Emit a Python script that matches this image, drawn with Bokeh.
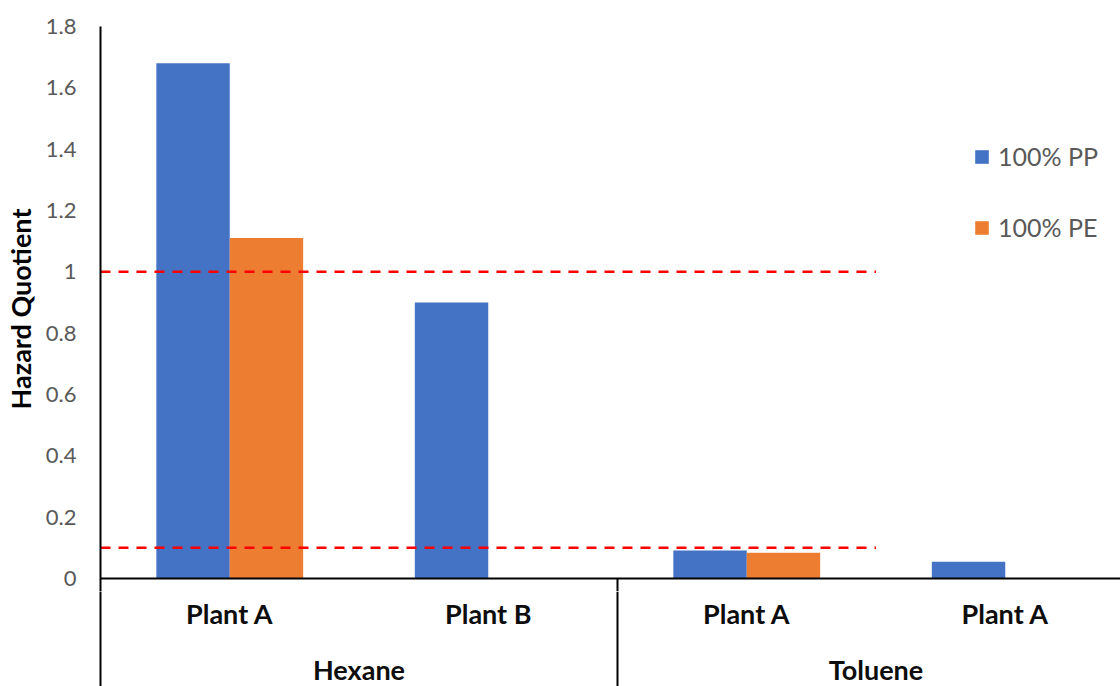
from bokeh.plotting import figure
from bokeh.layouts import column
from bokeh.models import ColumnDataSource, Range1d, FixedTicker, Legend, LegendItem, Span
from bokeh.transform import dodge
from bokeh.core.properties import value
from bokeh.embed import file_html
from bokeh.resources import INLINE

# ---- data ----
plants = ["Plant A", "Plant B", "Plant A", "Plant A"]
chemicals = ["Hexane", "Toluene"]
plants_per_chemical = [2, 2]
pp_values = [1.68, 0.90, 0.091, 0.055]
pe_values = [1.11, float("nan"), 0.084, float("nan")]
series_names = ["100% PP", "100% PE"]
series_colors = ["#4472C4", "#ED7D31"]
threshold_values = [1.0, 0.1]
threshold_span_categories = 3
y_ticks = [0, 0.2, 0.4, 0.6, 0.8, 1.0, 1.2, 1.4, 1.6, 1.8]
y_tick_labels = ["0", "0.2", "0.4", "0.6", "0.8", "1", "1.2", "1.4", "1.6", "1.8"]
y_title = "Hazard Quotient"

FONT = "Lato"
W, H = 1120, 686
left, top = 100, 26
y_max = 1.8
value_axis_px = 552
px_per_unit = value_axis_px / y_max
pad_px = 13                                  # room under zero so the "0" label is not cut
H1 = top + value_axis_px + pad_px            # main chart height
H2 = H - H1                                  # category-label strip height
zero_page_px = top + value_axis_px
cat_px = 258.5

x_pos = [i + 0.5 for i in range(len(plants))]
source = ColumnDataSource(dict(x=x_pos, pp=pp_values, pe=pe_values))
x_range = Range1d(0, (W - left) / cat_px)

bounds = []
acc = 0
for n in plants_per_chemical[:-1]:
    acc += n
    bounds.append(acc)

p = figure(width=W, height=H1, output_backend="svg", toolbar_location=None,
           x_range=x_range, y_range=Range1d(-pad_px / px_per_unit, y_max),
           min_border_left=left, min_border_right=0, min_border_top=top,
           min_border_bottom=0, x_axis_location=None)
p.outline_line_color = None
p.xgrid.grid_line_color = None
p.ygrid.grid_line_color = None
p.background_fill_color = "white"
p.border_fill_color = "white"

bw = 0.284
r_pp = p.vbar(x=dodge("x", -bw / 2, range=x_range), top="pp", width=bw, source=source,
              fill_color=series_colors[0], line_color=None)
r_pe = p.vbar(x=dodge("x", bw / 2, range=x_range), top="pe", width=bw, source=source,
              fill_color=series_colors[1], line_color=None)

for t in threshold_values:
    p.line(x=[0, threshold_span_categories], y=[t, t], line_color="#FF0000",
           line_width=2.5, line_dash="10 8")

p.add_layout(Span(location=0, dimension="width", line_color="black", line_width=2))
p.segment(x0=bounds, y0=[0] * len(bounds), x1=bounds,
          y1=[-pad_px / px_per_unit] * len(bounds), line_color="black", line_width=2)

# y axis
ya = p.yaxis[0]
ya.ticker = FixedTicker(ticks=y_ticks)
ya.major_label_overrides = dict(zip(y_ticks, y_tick_labels))
ya.major_tick_line_color = None
ya.minor_tick_line_color = None
ya.axis_line_color = "black"
ya.axis_line_width = 2
ya.major_label_text_font = FONT
ya.major_label_text_font_size = "22px"
ya.major_label_text_color = "#595959"
ya.major_label_standoff = 18
ya.axis_label = y_title
ya.axis_label_text_font = FONT
ya.axis_label_text_font_style = "bold"
ya.axis_label_text_font_size = "27px"
ya.axis_label_text_color = "black"
ya.axis_label_standoff = 6

legend_bottom_page_px = 242
legend = Legend(items=[LegendItem(label=series_names[0], renderers=[r_pp]),
                       LegendItem(label=series_names[1], renderers=[r_pe])],
                location=(873, H1 - legend_bottom_page_px), orientation="vertical")
legend.background_fill_alpha = 0
legend.border_line_color = None
legend.padding = 0
legend.margin = 0
legend.spacing = 41
legend.glyph_width = 17
legend.glyph_height = 17
legend.label_height = 30
legend.label_standoff = 8
legend.label_text_font = FONT
legend.label_text_font_size = "25px"
legend.label_text_color = "#595959"
p.add_layout(legend)

# ---- category strip (two-level category axis) ----
p2 = figure(width=W, height=H2, output_backend="svg", toolbar_location=None,
            x_range=x_range, y_range=Range1d(-H2, 0),
            min_border_left=left, min_border_right=0, min_border_top=0,
            min_border_bottom=0, x_axis_location=None)
p2.outline_line_color = None
p2.xgrid.grid_line_color = None
p2.ygrid.grid_line_color = None
p2.background_fill_color = "white"
p2.border_fill_color = "white"
ya2 = p2.yaxis[0]
ya2.ticker = FixedTicker(ticks=[])
ya2.major_tick_line_color = None
ya2.minor_tick_line_color = None
ya2.axis_line_color = "black"
ya2.axis_line_width = 2

p2.segment(x0=bounds, y0=[0] * len(bounds), x1=bounds, y1=[-H2] * len(bounds),
           line_color="black", line_width=2)

strip_top = zero_page_px + pad_px
p2.text(x=x_pos, y=[strip_top - 613] * len(plants), text=plants, text_align="center",
        text_baseline="alphabetic", text_font=value(FONT), text_font_style="bold",
        text_font_size="27px", text_color="#0D0D0D")
group_x = []
start = 0
for n in plants_per_chemical:
    group_x.append(start + n / 2)
    start += n
p2.text(x=group_x, y=[strip_top - 669] * len(chemicals), text=chemicals, text_align="center",
        text_baseline="alphabetic", text_font=value(FONT), text_font_style="bold",
        text_font_size="27px", text_color="#0D0D0D")

layout = column(p, p2, spacing=0)
open("out.html", "w").write(file_html(layout, INLINE))
